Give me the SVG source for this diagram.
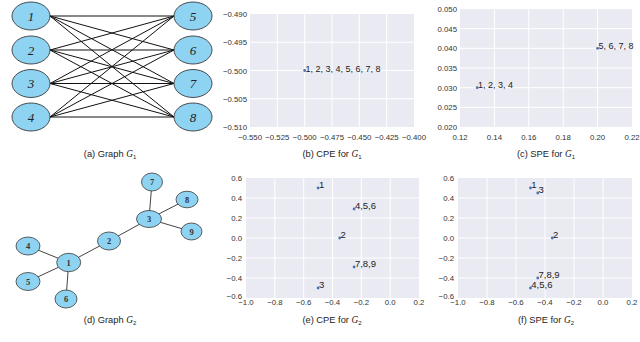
<svg xmlns="http://www.w3.org/2000/svg" width="640" height="342" viewBox="0 0 640 342">
<style>
.bg{fill:#ffffff}
.ax{fill:#EAEAF2}
.grid line{stroke:#ffffff;stroke-width:1}
.tk{font-family:"Liberation Sans",Arial,sans-serif;font-size:7.8px;fill:#333333}
.ty{text-anchor:end}
.tx{text-anchor:middle}
.cap{font-family:"Liberation Sans",Arial,sans-serif;font-size:9.3px;fill:#222222;text-anchor:middle}
.m{font-family:"Liberation Serif","Times New Roman",serif;font-style:italic}
.pt{fill:#4C72B0}
.pl{font-family:"Liberation Sans",Arial,sans-serif;font-size:9px;fill:#222222}
.pl2{font-family:"Liberation Sans",Arial,sans-serif;font-size:9.5px;fill:#222222}
.nodeA ellipse{fill:#8ED3F1;stroke:#3a3a3a;stroke-width:0.9}
.nodeA text{font-family:"Liberation Serif","Times New Roman",serif;font-style:italic;font-size:13px;fill:#222;text-anchor:middle}
.nodeD ellipse{fill:#8ED3F1;stroke:#3a3a3a;stroke-width:0.8}
.nodeD text{font-family:"Liberation Serif","Times New Roman",serif;font-weight:bold;font-size:8.5px;fill:#333;text-anchor:middle}
.edgesA line{stroke:#111;stroke-width:1}
.edgesD line{stroke:#444;stroke-width:1}
</style>
<rect class="bg" x="0" y="0" width="640" height="342"/>

<!-- (a) Graph G1 -->
<g id="edgesA" class="edgesA">
<line x1="50" y1="16" x2="174" y2="16"/><line x1="50" y1="16" x2="174" y2="50"/><line x1="50" y1="16" x2="174" y2="83.5"/><line x1="50" y1="16" x2="174" y2="117"/>
<line x1="50" y1="50" x2="174" y2="16"/><line x1="50" y1="50" x2="174" y2="50"/><line x1="50" y1="50" x2="174" y2="83.5"/><line x1="50" y1="50" x2="174" y2="117"/>
<line x1="50" y1="83.5" x2="174" y2="16"/><line x1="50" y1="83.5" x2="174" y2="50"/><line x1="50" y1="83.5" x2="174" y2="83.5"/><line x1="50" y1="83.5" x2="174" y2="117"/>
<line x1="50" y1="117" x2="174" y2="16"/><line x1="50" y1="117" x2="174" y2="50"/><line x1="50" y1="117" x2="174" y2="83.5"/><line x1="50" y1="117" x2="174" y2="117"/>
</g>
<g id="a1" class="nodeA"><ellipse cx="31" cy="16" rx="19" ry="14"/><text x="31" y="20.5">1</text></g>
<g id="a2" class="nodeA"><ellipse cx="31" cy="50" rx="19" ry="14"/><text x="31" y="54.5">2</text></g>
<g id="a3" class="nodeA"><ellipse cx="31" cy="83.5" rx="19" ry="14"/><text x="31" y="88">3</text></g>
<g id="a4" class="nodeA"><ellipse cx="31" cy="117" rx="19" ry="14"/><text x="31" y="121.5">4</text></g>
<g id="a5" class="nodeA"><ellipse cx="193" cy="16" rx="19" ry="14"/><text x="193" y="20.5">5</text></g>
<g id="a6" class="nodeA"><ellipse cx="193" cy="50" rx="19" ry="14"/><text x="193" y="54.5">6</text></g>
<g id="a7" class="nodeA"><ellipse cx="193" cy="83.5" rx="19" ry="14"/><text x="193" y="88">7</text></g>
<g id="a8" class="nodeA"><ellipse cx="193" cy="117" rx="19" ry="14"/><text x="193" y="121.5">8</text></g>
<text class="cap" x="110" y="156.5">(a) Graph <tspan class="m">G</tspan><tspan font-size="6" dy="2">1</tspan></text>

<!-- (b) CPE for G1 -->
<g id="plotB">
<rect class="ax" x="250" y="14" width="164" height="113"/>
<g class="grid">
<line x1="277.33" y1="14" x2="277.33" y2="127"/><line x1="304.67" y1="14" x2="304.67" y2="127"/><line x1="332" y1="14" x2="332" y2="127"/><line x1="359.33" y1="14" x2="359.33" y2="127"/><line x1="386.67" y1="14" x2="386.67" y2="127"/>
<line x1="250" y1="42.25" x2="414" y2="42.25"/><line x1="250" y1="70.5" x2="414" y2="70.5"/><line x1="250" y1="98.75" x2="414" y2="98.75"/>
</g>
<text class="tk ty" x="247" y="17">−0.490</text>
<text class="tk ty" x="247" y="45.2">−0.495</text>
<text class="tk ty" x="247" y="73.5">−0.500</text>
<text class="tk ty" x="247" y="101.7">−0.505</text>
<text class="tk ty" x="247" y="130">−0.510</text>
<text class="tk tx" x="250" y="139.5">−0.550</text>
<text class="tk tx" x="277.33" y="139.5">−0.525</text>
<text class="tk tx" x="304.67" y="139.5">−0.500</text>
<text class="tk tx" x="332" y="139.5">−0.475</text>
<text class="tk tx" x="359.33" y="139.5">−0.450</text>
<text class="tk tx" x="386.67" y="139.5">−0.425</text>
<text class="tk tx" x="414" y="139.5">−0.400</text>
<circle class="pt" cx="304.67" cy="70.5" r="1.4"/>
<text class="pl" x="305.5" y="71.5">1, 2, 3, 4, 5, 6, 7, 8</text>
</g>
<text class="cap" x="332" y="156.5">(b) CPE for <tspan class="m">G</tspan><tspan font-size="6" dy="2">1</tspan></text>

<!-- (c) SPE for G1 -->
<g id="plotC">
<rect class="ax" x="460" y="9" width="172" height="118"/>
<g class="grid">
<line x1="494.4" y1="9" x2="494.4" y2="127"/><line x1="528.8" y1="9" x2="528.8" y2="127"/><line x1="563.2" y1="9" x2="563.2" y2="127"/><line x1="597.6" y1="9" x2="597.6" y2="127"/>
<line x1="460" y1="28.67" x2="632" y2="28.67"/><line x1="460" y1="48.33" x2="632" y2="48.33"/><line x1="460" y1="68" x2="632" y2="68"/><line x1="460" y1="87.67" x2="632" y2="87.67"/><line x1="460" y1="107.33" x2="632" y2="107.33"/>
</g>
<text class="tk ty" x="457" y="12">0.050</text>
<text class="tk ty" x="457" y="31.7">0.045</text>
<text class="tk ty" x="457" y="51.3">0.040</text>
<text class="tk ty" x="457" y="71">0.035</text>
<text class="tk ty" x="457" y="90.7">0.030</text>
<text class="tk ty" x="457" y="110.3">0.025</text>
<text class="tk ty" x="457" y="130">0.020</text>
<text class="tk tx" x="460" y="139.5">0.12</text>
<text class="tk tx" x="494.4" y="139.5">0.14</text>
<text class="tk tx" x="528.8" y="139.5">0.16</text>
<text class="tk tx" x="563.2" y="139.5">0.18</text>
<text class="tk tx" x="597.6" y="139.5">0.20</text>
<text class="tk tx" x="632" y="139.5">0.22</text>
<circle class="pt" cx="477.2" cy="87.67" r="1.4"/>
<text class="pl" x="478" y="88">1, 2, 3, 4</text>
<circle class="pt" cx="597.6" cy="48.33" r="1.4"/>
<text class="pl" x="598.4" y="48.7">5, 6, 7, 8</text>
</g>
<text class="cap" x="546" y="156.5">(c) SPE for <tspan class="m">G</tspan><tspan font-size="6" dy="2">1</tspan></text>

<!-- (d) Graph G2 -->
<g id="edgesD" class="edgesD">
<line x1="68.7" y1="262.5" x2="28" y2="246"/>
<line x1="68.7" y1="262.5" x2="28" y2="281.5"/>
<line x1="68.7" y1="262.5" x2="66" y2="299"/>
<line x1="68.7" y1="262.5" x2="109" y2="241"/>
<line x1="109" y1="241" x2="149" y2="219"/>
<line x1="149" y1="219" x2="152" y2="182"/>
<line x1="149" y1="219" x2="187" y2="199.5"/>
<line x1="149" y1="219" x2="191.5" y2="231.5"/>
</g>
<g id="d1" class="nodeD"><ellipse cx="68.7" cy="262.5" rx="12" ry="9.2"/><text x="68.7" y="265.5">1</text></g>
<g id="d2" class="nodeD"><ellipse cx="109" cy="241" rx="11.5" ry="9"/><text x="109" y="244">2</text></g>
<g id="d3" class="nodeD"><ellipse cx="149" cy="219" rx="12.5" ry="8.5"/><text x="149" y="222">3</text></g>
<g id="d4" class="nodeD"><ellipse cx="28" cy="246" rx="12" ry="9"/><text x="28" y="249">4</text></g>
<g id="d5" class="nodeD"><ellipse cx="28" cy="281.5" rx="12" ry="9"/><text x="28" y="284.5">5</text></g>
<g id="d6" class="nodeD"><ellipse cx="66" cy="299" rx="11" ry="9"/><text x="66" y="302">6</text></g>
<g id="d7" class="nodeD"><ellipse cx="152" cy="182" rx="10.5" ry="9"/><text x="152" y="185">7</text></g>
<g id="d8" class="nodeD"><ellipse cx="187" cy="199.5" rx="11" ry="8.3"/><text x="187" y="202.5">8</text></g>
<g id="d9" class="nodeD"><ellipse cx="191.5" cy="231.5" rx="10.5" ry="8.5"/><text x="191.5" y="234.5">9</text></g>
<text class="cap" x="110" y="322.5">(d) Graph <tspan class="m">G</tspan><tspan font-size="6" dy="2">2</tspan></text>

<!-- (e) CPE for G2 -->
<g id="plotE">
<rect class="ax" x="246" y="178" width="173" height="120"/>
<g class="grid">
<line x1="274.83" y1="178" x2="274.83" y2="298"/><line x1="303.67" y1="178" x2="303.67" y2="298"/><line x1="332.5" y1="178" x2="332.5" y2="298"/><line x1="361.33" y1="178" x2="361.33" y2="298"/><line x1="390.17" y1="178" x2="390.17" y2="298"/>
<line x1="246" y1="198" x2="419" y2="198"/><line x1="246" y1="218" x2="419" y2="218"/><line x1="246" y1="238" x2="419" y2="238"/><line x1="246" y1="258" x2="419" y2="258"/><line x1="246" y1="278" x2="419" y2="278"/>
</g>
<text class="tk ty" x="242" y="181">0.6</text>
<text class="tk ty" x="242" y="201">0.4</text>
<text class="tk ty" x="242" y="221">0.2</text>
<text class="tk ty" x="242" y="241">0.0</text>
<text class="tk ty" x="242" y="261">−0.2</text>
<text class="tk ty" x="242" y="281">−0.4</text>
<text class="tk ty" x="242" y="299">−0.6</text>
<text class="tk tx" x="246" y="305">−1.0</text>
<text class="tk tx" x="274.83" y="305">−0.8</text>
<text class="tk tx" x="303.67" y="305">−0.6</text>
<text class="tk tx" x="332.5" y="305">−0.4</text>
<text class="tk tx" x="361.33" y="305">−0.2</text>
<text class="tk tx" x="390.17" y="305">0.0</text>
<text class="tk tx" x="419" y="305">0.2</text>
<circle class="pt" cx="318.1" cy="188" r="1.4"/><text class="pl2" x="318.9" y="188.3">1</text>
<circle class="pt" cx="354.1" cy="209" r="1.4"/><text class="pl2" x="354.9" y="209.3">4,5,6</text>
<circle class="pt" cx="339.7" cy="238" r="1.4"/><text class="pl2" x="340.5" y="238.3">2</text>
<circle class="pt" cx="354.1" cy="267" r="1.4"/><text class="pl2" x="354.9" y="267.3">7,8,9</text>
<circle class="pt" cx="318.1" cy="288" r="1.4"/><text class="pl2" x="318.9" y="288.3">3</text>
</g>
<text class="cap" x="332" y="322.5">(e) CPE for <tspan class="m">G</tspan><tspan font-size="6" dy="2">2</tspan></text>

<!-- (f) SPE for G2 -->
<g id="plotF">
<rect class="ax" x="458" y="178" width="174" height="120"/>
<g class="grid">
<line x1="487" y1="178" x2="487" y2="298"/><line x1="516" y1="178" x2="516" y2="298"/><line x1="545" y1="178" x2="545" y2="298"/><line x1="574" y1="178" x2="574" y2="298"/><line x1="603" y1="178" x2="603" y2="298"/>
<line x1="458" y1="198" x2="632" y2="198"/><line x1="458" y1="218" x2="632" y2="218"/><line x1="458" y1="238" x2="632" y2="238"/><line x1="458" y1="258" x2="632" y2="258"/><line x1="458" y1="278" x2="632" y2="278"/>
</g>
<text class="tk ty" x="454" y="181">0.6</text>
<text class="tk ty" x="454" y="201">0.4</text>
<text class="tk ty" x="454" y="221">0.2</text>
<text class="tk ty" x="454" y="241">0.0</text>
<text class="tk ty" x="454" y="261">−0.2</text>
<text class="tk ty" x="454" y="281">−0.4</text>
<text class="tk ty" x="454" y="299">−0.6</text>
<text class="tk tx" x="458" y="305">−1.0</text>
<text class="tk tx" x="487" y="305">−0.8</text>
<text class="tk tx" x="516" y="305">−0.6</text>
<text class="tk tx" x="545" y="305">−0.4</text>
<text class="tk tx" x="574" y="305">−0.2</text>
<text class="tk tx" x="603" y="305">0.0</text>
<text class="tk tx" x="632" y="305">0.2</text>
<circle class="pt" cx="530.5" cy="188" r="1.4"/><text class="pl2" x="531.3" y="188.3">1</text>
<circle class="pt" cx="537.75" cy="193" r="1.4"/><text class="pl2" x="538.5" y="193.3">3</text>
<circle class="pt" cx="552.25" cy="238" r="1.4"/><text class="pl2" x="553" y="238.3">2</text>
<circle class="pt" cx="537.75" cy="278" r="1.4"/><text class="pl2" x="538.5" y="278.3">7,8,9</text>
<circle class="pt" cx="530.5" cy="288" r="1.4"/><text class="pl2" x="531.3" y="288.3">4,5,6</text>
</g>
<text class="cap" x="546" y="322.5">(f) SPE for <tspan class="m">G</tspan><tspan font-size="6" dy="2">2</tspan></text>
</svg>
